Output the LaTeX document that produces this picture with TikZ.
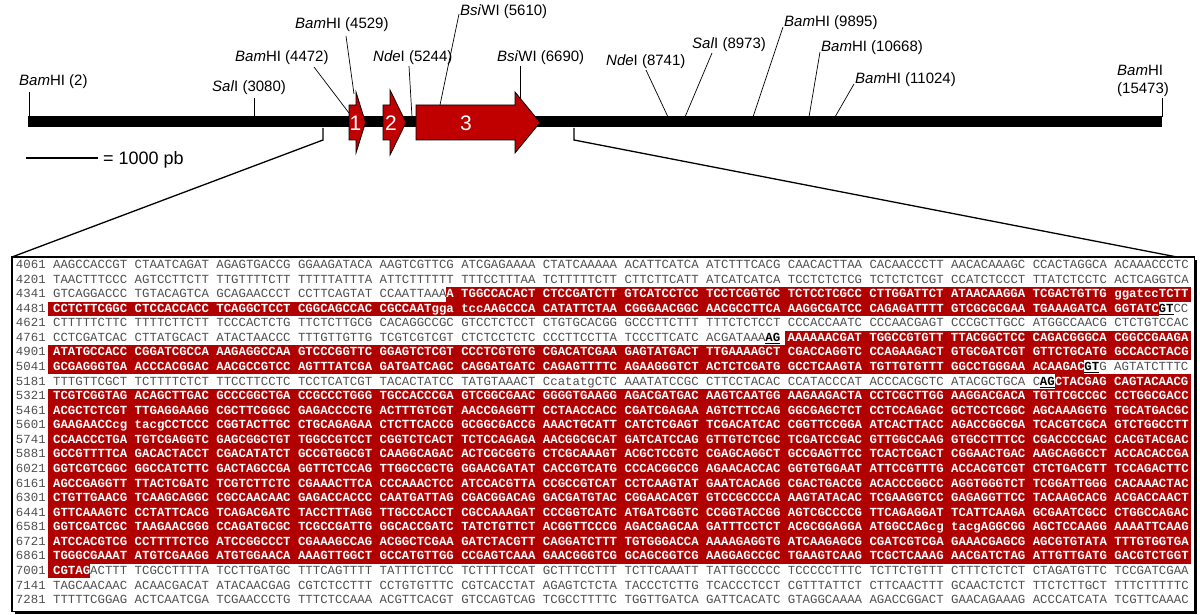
\documentclass[tikz,border=0pt]{standalone}
\usepackage{fontspec}
\setmainfont{Liberation Sans}
\newfontfamily\seqfont{Liberation Mono}
\definecolor{genered}{RGB}{192,0,0}
\definecolor{seqred}{RGB}{176,0,0}
\definecolor{seqgray}{RGB}{80,80,80}
\newcommand\cw{7.42}
\newcommand\rh{14.57}
\newcommand\rb{268.5}
\tikzset{
  seqtxt/.style={anchor=base west, inner sep=0pt, outer sep=0pt, text=seqgray,
    font=\seqfont\fontsize{12.37}{14}\selectfont},
  seqhl/.style={seqtxt, text=white, font=\seqfont\fontsize{12.37}{14}\selectfont\bfseries},
  seqsp/.style={seqtxt, text=black, font=\seqfont\fontsize{12.37}{14}\selectfont\bfseries},
  site/.style={anchor=west, inner sep=0pt, font=\fontsize{15}{17}\selectfont},
  cut/.style={draw=black, line width=0.7pt},
  gene/.style={fill=genered, draw=black, line width=0.8pt},
  genenum/.style={text=white, inner sep=0pt, font=\fontsize{21}{23}\selectfont},
  zoomline/.style={draw=black, line width=1.3pt},
}
% row, column, text
\newcommand\pl[3]{\node[seqtxt] (p#1-#2) at ({16+#2*\cw},{\rb+#1*\rh}) {#3};}
\newcommand\hl[3]{\node[seqhl] (h#1-#2) at ({16+#2*\cw},{\rb+#1*\rh}) {#3};}
\newcommand\splc[3]{\node[seqsp] (s#1-#2) at ({16+#2*\cw},{\rb+#1*\rh}) {#3};
  \draw[line width=0.9pt] ([yshift=-2pt]s#1-#2.base west) -- ([yshift=-2pt]s#1-#2.base east);}
% row, x from, x to
\newcommand\band[3]{\fill[seqred] ({#2},{\rb+#1*\rh-10.7}) rectangle ({#3},{\rb+#1*\rh+3.87});}
\newcommand\bandc[3]{\fill[seqred] ({16+#2*\cw},{\rb+#1*\rh-10.7}) rectangle ({16+#3*\cw},{\rb+#1*\rh+3.87});}
\newcommand\num[2]{\node[seqtxt] (n#1) at (16,{\rb+#1*\rh}) {#2};}
\begin{document}
\begin{tikzpicture}[x=1pt,y=-1pt]
\useasboundingbox (0,0) rectangle (1200,615);
% ---------------- map ----------------
\coordinate (barL) at (28,122);
\coordinate (barR) at (1162,122);
\draw[line width=11pt] (barL) -- (barR);
% gene arrows
\draw[gene] (349,105) -- (356,105) -- (356,92) -- (365.5,122.5) -- (356,153) -- (356,140) -- (349,140) -- cycle;
\draw[gene] (383,105) -- (390,105) -- (390,90) -- (406,122.5) -- (390,155) -- (390,140) -- (383,140) -- cycle;
\draw[gene] (416,105) -- (515,105) -- (515,92) -- (540,122.5) -- (515,153) -- (515,140) -- (416,140) -- cycle;
\node[genenum] (g1) at (355.5,123) {1};
\node[genenum] (g2) at (391,123) {2};
\node[genenum] (g3) at (466,123) {3};
% restriction sites
\node[site] (b2) at (19,82) {\textit{Bam}HI (2)};
\node[site] (s3080) at (212,88) {\textit{Sal}I (3080)};
\node[site] (b4472) at (235,58) {\textit{Bam}HI (4472)};
\node[site] (b4529) at (295,25) {\textit{Bam}HI (4529)};
\node[site] (n5244) at (373,58) {\textit{Nde}I (5244)};
\node[site] (w5610) at (460,12) {\textit{Bsi}WI (5610)};
\node[site] (w6690) at (497,58) {\textit{Bsi}WI (6690)};
\node[site] (n8741) at (606,62) {\textit{Nde}I (8741)};
\node[site] (s8973) at (692,45) {\textit{Sal}I (8973)};
\node[site] (b9895) at (784,23) {\textit{Bam}HI (9895)};
\node[site] (b10668) at (821,48) {\textit{Bam}HI (10668)};
\node[site] (b11024) at (855,80) {\textit{Bam}HI (11024)};
\node[site, align=left, font=\fontsize{15}{18}\selectfont] (b15473) at (1117,81) {\textit{Bam}HI\\(15473)};
\coordinate (t1a) at (29,92);    \coordinate (t1b) at (29,117);
\coordinate (t2a) at (254,98);   \coordinate (t2b) at (254,117);
\coordinate (t3a) at (314,67);   \coordinate (t3b) at (349,113);
\coordinate (t4a) at (346,36);   \coordinate (t4b) at (354,94);
\coordinate (t5a) at (409,66);   \coordinate (t5b) at (412,117);
\coordinate (t6a) at (459,14);   \coordinate (t6b) at (440,105);
\coordinate (t7a) at (520,66);   \coordinate (t7b) at (520,98);
\coordinate (t8a) at (646,70);   \coordinate (t8b) at (668,117);
\coordinate (t9a) at (712,53);   \coordinate (t9b) at (685,117);
\coordinate (t10a) at (783,27);  \coordinate (t10b) at (753,117);
\coordinate (t11a) at (820,52);  \coordinate (t11b) at (809,117);
\coordinate (t12a) at (854,84);  \coordinate (t12b) at (835,117);
\coordinate (t13a) at (1162,98); \coordinate (t13b) at (1162,117);
\foreach \i in {1,...,13} {\draw[cut] (t\i a) -- (t\i b);}
% scale bar
\coordinate (scL) at (26,158);
\coordinate (scR) at (98,158);
\draw[line width=1.2pt] (scL) -- (scR);
\node[anchor=west, inner sep=0pt, font=\fontsize{18}{20}\selectfont] (sclbl) at (103,160) {= 1000 pb};
% zoom box
\fill[black] (14.5,259.5) rectangle (1197,614);
\draw[fill=white, line width=1.2pt] (12,257) rectangle (1194.5,611.5);
\coordinate (zl0) at (323,128); \coordinate (zl1) at (323,140); \coordinate (zl2) at (12,257);
\coordinate (zr0) at (574,128); \coordinate (zr1) at (574,140); \coordinate (zr2) at (1177,257);
\draw[zoomline] (zl0) -- (zl1) -- (zl2);
\draw[zoomline] (zr0) -- (zr1) -- (zr2);
% ---------------- sequence ----------------
% red bands
\band{2}{{16+58*\cw-0.5}}{1191}
\band{3}{48}{{16+154*\cw}}
\band{5}{{16+103.6*\cw}}{1191}
\band{6}{48}{1191}
\band{7}{48}{{16+144*\cw}}
\band{8}{{16+140*\cw}}{1191}
\foreach \r in {9,...,20} {\band{\r}{48}{1191}}
\band{21}{48}{{16+10*\cw}}
% numbers
\num{0}{4061}\num{1}{4201}\num{2}{4341}\num{3}{4481}\num{4}{4621}\num{5}{4761}
\num{6}{4901}\num{7}{5041}\num{8}{5181}\num{9}{5321}\num{10}{5461}\num{11}{5601}
\num{12}{5741}\num{13}{5881}\num{14}{6021}\num{15}{6161}\num{16}{6301}\num{17}{6441}
\num{18}{6581}\num{19}{6721}\num{20}{6861}\num{21}{7001}\num{22}{7141}\num{23}{7281}
% rows
\pl{0}{5}{AAGCCACCGT CTAATCAGAT AGAGTGACCG GGAAGATACA AAGTCGTTCG ATCGAGAAAA CTATCAAAAA ACATTCATCA ATCTTTCACG CAACACTTAA CACAACCCTT AACACAAAGC CCACTAGGCA ACAAACCCTC}
\pl{1}{5}{TAACTTTCCC AGTCCTTCTT TTGTTTTCTT TTTTTATTTA ATTCTTTTTT TTTCCTTTAA TCTTTTTCTT CTTCTTCATT ATCATCATCA TCCTCTCTCG TCTCTCTCGT CCATCTCCCT TTATCTCCTC ACTCAGGTCA}
\pl{2}{5}{GTCAGGACCC TGTACAGTCA GCAGAACCCT CCTTCAGTAT CCAATTAAA}
\hl{2}{58}{A TGGCCACACT CTCCGATCTT GTCATCCTCC TCCTCGGTGC TCTCCTCGCC CTTGGATTCT ATAACAAGGA TCGACTGTTG ggatccTCTT}
\hl{3}{5}{CCTCTTCGGC CTCCACCACC TCAGGCTCCT CGGCAGCCAC CGCCAATgga tccAAGCCCA CATATTCTAA CGGGAACGGC AACGCCTTCA AAGGCGATCC CAGAGATTTT GTCGCGCGAA TGAAAGATCA GGTATC}
\splc{3}{154}{GT}
\pl{3}{156}{CC}
\pl{4}{5}{CTTTTTCTTC TTTTCTTCTT TCCCACTCTG TTCTCTTGCG CACAGGCCGC GTCCTCTCCT CTGTGCACGG GCCCTTCTTT TTTCTCTCCT CCCACCAATC CCCAACGAGT CCCGCTTGCC ATGGCCAACG CTCTGTCCAC}
\pl{5}{5}{CCTCGATCAC CTTATGCACT ATACTAACCC TTTGTTGTTG TCGTCGTCGT CTCTCCTCTC CCCTTCCTTA TCCCTTCATC ACGATAAA}
\splc{5}{101}{AG}
\hl{5}{104}{AAAAAACGAT TGGCCGTGTT TTACGGCTCC CAGACGGGCA CGGCCGAAGA}
\hl{6}{5}{ATATGCCACC CGGATCGCCA AAGAGGCCAA GTCCCGGTTC GGAGTCTCGT CCCTCGTGTG CGACATCGAA GAGTATGACT TTGAAAAGCT CGACCAGGTC CCAGAAGACT GTGCGATCGT GTTCTGCATG GCCACCTACG}
\hl{7}{5}{GCGAGGGTGA ACCCACGGAC AACGCCGTCC AGTTTATCGA GATGATCAGC CAGGATGATC CAGAGTTTTC AGAAGGGTCT ACTCTCGATG GCCTCAAGTA TGTTGTGTTT GGCCTGGGAA ACAAGAC}
\splc{7}{144}{GT}
\pl{7}{146}{G AGTATCTTTC}
\pl{8}{5}{TTTGTTCGCT TCTTTTCTCT TTCCTTCCTC TCCTCATCGT TACACTATCC TATGTAAACT CcatatgCTC AAATATCCGC CTTCCTACAC CCATACCCAT ACCCACGCTC ATACGCTGCA C}
\splc{8}{138}{AG}
\hl{8}{140}{CTACGAG CAGTACAACG}
\hl{9}{5}{TCGTCGGTAG ACAGCTTGAC GCCCGGCTGA CCGCCCTGGG TGCCACCCGA GTCGGCGAAC GGGGTGAAGG AGACGATGAC AAGTCAATGG AAGAAGACTA CCTCGCTTGG AAGGACGACA TGTTCGCCGC CCTGGCGACC}
\hl{10}{5}{ACGCTCTCGT TTGAGGAAGG CGCTTCGGGC GAGACCCCTG ACTTTGTCGT AACCGAGGTT CCTAACCACC CGATCGAGAA AGTCTTCCAG GGCGAGCTCT CCTCCAGAGC GCTCCTCGGC AGCAAAGGTG TGCATGACGC}
\hl{11}{5}{GAAGAACCcg tacgCCTCCC CGGTACTTGC CTGCAGAGAA CTCTTCACCG GCGGCGACCG AAACTGCATT CATCTCGAGT TCGACATCAC CGGTTCCGGA ATCACTTACC AGACCGGCGA TCACGTCGCA GTCTGGCCTT}
\hl{12}{5}{CCAACCCTGA TGTCGAGGTC GAGCGGCTGT TGGCCGTCCT CGGTCTCACT TCTCCAGAGA AACGGCGCAT GATCATCCAG GTTGTCTCGC TCGATCCGAC GTTGGCCAAG GTGCCTTTCC CGACCCCGAC CACGTACGAC}
\hl{13}{5}{GCCGTTTTCA GACACTACCT CGACATATCT GCCGTGGCGT CAAGGCAGAC ACTCGCGGTG CTCGCAAAGT ACGCTCCGTC CGAGCAGGCT GCCGAGTTCC TCACTCGACT CGGAACTGAC AAGCAGGCCT ACCACACCGA}
\hl{14}{5}{GGTCGTCGGC GGCCATCTTC GACTAGCCGA GGTTCTCCAG TTGGCCGCTG GGAACGATAT CACCGTCATG CCCACGGCCG AGAACACCAC GGTGTGGAAT ATTCCGTTTG ACCACGTCGT CTCTGACGTT TCCAGACTTC}
\hl{15}{5}{AGCCGAGGTT TTACTCGATC TCGTCTTCTC CGAAACTTCA CCCAAACTCC ATCCACGTTA CCGCCGTCAT CCTCAAGTAT GAATCACAGG CGACTGACCG ACACCCGGCC AGGTGGGTCT TCGGATTGGG CACAAACTAC}
\hl{16}{5}{CTGTTGAACG TCAAGCAGGC CGCCAACAAC GAGACCACCC CAATGATTAG CGACGGACAG GACGATGTAC CGGAACACGT GTCCGCCCCA AAGTATACAC TCGAAGGTCC GAGAGGTTCC TACAAGCACG ACGACCAACT}
\hl{17}{5}{GTTCAAAGTC CCTATTCACG TCAGACGATC TACCTTTAGG TTGCCCACCT CGCCAAAGAT CCCGGTCATC ATGATCGGTC CCGGTACCGG AGTCGCCCCG TTCAGAGGAT TCATTCAAGA GCGAATCGCC CTGGCCAGAC}
\hl{18}{5}{GGTCGATCGC TAAGAACGGG CCAGATGCGC TCGCCGATTG GGCACCGATC TATCTGTTCT ACGGTTCCCG AGACGAGCAA GATTTCCTCT ACGCGGAGGA ATGGCCAGcg tacgAGGCGG AGCTCCAAGG AAAATTCAAG}
\hl{19}{5}{ATCCACGTCG CCTTTTCTCG ATCCGGCCCT CGAAAGCCAG ACGGCTCGAA GATCTACGTT CAGGATCTTT TGTGGGACCA AAAAGAGGTG ATCAAGAGCG CGATCGTCGA GAAACGAGCG AGCGTGTATA TTTGTGGTGA}
\hl{20}{5}{TGGGCGAAAT ATGTCGAAGG ATGTGGAACA AAAGTTGGCT GCCATGTTGG CCGAGTCAAA GAACGGGTCG GCAGCGGTCG AAGGAGCCGC TGAAGTCAAG TCGCTCAAAG AACGATCTAG ATTGTTGATG GACGTCTGGT}
\hl{21}{5}{CGTAG}
\pl{21}{10}{ACTTT TCGCCTTTTA TCCTTGATGC TTTCAGTTTT TATTTCTTCC TCTTTTCCAT GCTTTCCTTT TCTTCAAATT TATTGCCCCC TCCCCCTTTC TCTTCTGTTT CTTTCTCTCT CTAGATGTTC TCCGATCGAA}
\pl{22}{5}{TAGCAACAAC ACAACGACAT ATACAACGAG CGTCTCCTTT CCTGTGTTTC CGTCACCTAT AGAGTCTCTA TACCCTCTTG TCACCCTCCT CGTTTATTCT CTTCAACTTT GCAACTCTCT TTCTCTTGCT TTTCTTTTTC}
\pl{23}{5}{TTTTTCGGAG ACTCAATCGA TCGAACCCTG TTTCTCCAAA ACGTTCACGT GTCCAGTCAG TCGCCTTTTC TGGTTGATCA GATTCACATC GTAGGCAAAA AGACCGGACT GAACAGAAAG ACCCATCATA TCGTTCAAAC}
\end{tikzpicture}
\end{document}
